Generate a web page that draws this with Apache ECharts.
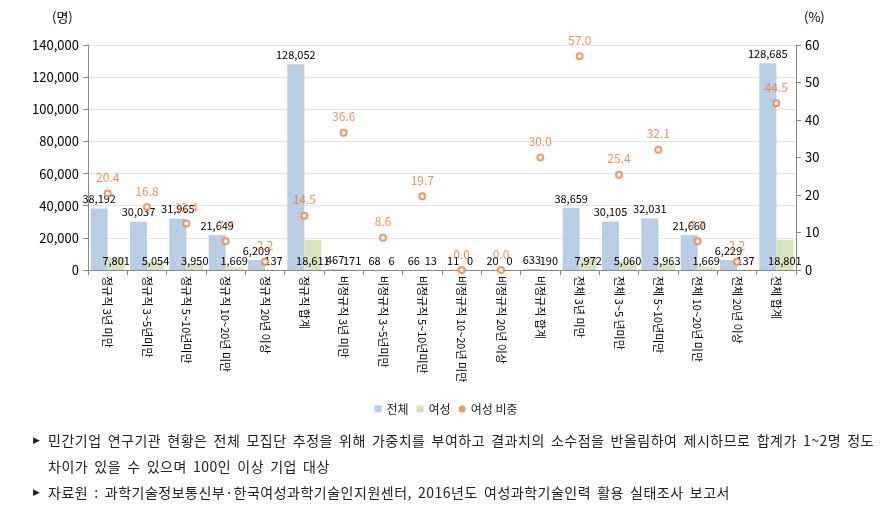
<!DOCTYPE html>
<html><head><meta charset="utf-8">
<script src="https://cdn.jsdelivr.net/npm/echarts@6/dist/echarts.min.js"></script>
<style>
html,body{margin:0;padding:0;background:#fff}
#wrap{position:relative;width:892px;height:508px}
#c{width:892px;height:508px}
.note{position:absolute;left:48px;font-family:'Noto Sans CJK KR','Noto Sans',sans-serif;font-size:14px;letter-spacing:0.5px;word-spacing:2.5px;color:#222;white-space:nowrap;line-height:18px}
.bul{position:absolute;left:33px;font-size:9px;color:#222;line-height:18px;font-family:'DejaVu Sans',sans-serif}
</style>
</head><body><div id="wrap"><div id="c"></div>
<div class="bul" style="top:431px">▶</div>
<div class="note" id="n1" style="top:431px"></div>
<div class="note" id="n2" style="top:457px"></div>
<div class="bul" style="top:483px">▶</div>
<div class="note" id="n3" style="top:483px"></div>
</div>
<script>
const categories = ['정규직 3년 미만','정규직 3~5년미만','정규직 5~10년미만','정규직 10~20년 미만','정규직 20년 이상','정규직 합계','비정규직 3년 미만','비정규직 3~5년미만','비정규직 5~10년미만','비정규직 10~20년 미만','비정규직 20년 이상','비정규직 합계','전체 3년 미만','전체 3~5 년미만','전체 5~10년미만','전체 10~20년 미만','전체 20년 이상','전체 합계'];
const totalValues = [38192,30037,31965,21649,6209,128052,467,68,66,11,20,633,38659,30105,32031,21660,6229,128685];
const femaleValues = [7801,5054,3950,1669,137,18611,171,6,13,0,0,190,7972,5060,3963,1669,137,18801];
const femaleShare = [20.4,16.8,12.4,7.7,2.2,14.5,36.6,8.6,19.7,0.0,0.0,30.0,57.0,25.4,32.1,7.7,2.2,44.5];
const leftTicks = {min:0,max:140000,interval:20000};
const rightTicks = {min:0,max:60,interval:10};
const notes = ['민간기업 연구기관 현황은 전체 모집단 추정을 위해 가중치를 부여하고 결과치의 소수점을 반올림하여 제시하므로 합계가 1~2명 정도',
  '차이가 있을 수 있으며 100인 이상 기업 대상',
  '자료원 : 과학기술정보통신부·한국여성과학기술인지원센터, 2016년도 여성과학기술인력 활용 실태조사 보고서'];
document.getElementById('n1').textContent = notes[0];
document.getElementById('n2').textContent = notes[1];
document.getElementById('n3').textContent = notes[2];

const FONT = "'Noto Sans CJK KR', 'Noto Sans', sans-serif";
const chart = echarts.init(document.getElementById('c'));
const fmt = v => v.toLocaleString('en-US');
chart.setOption({
  animation:false,
  textStyle:{fontFamily:FONT},
  grid:{left:88,right:96,top:45,bottom:238},
  legend:{
    bottom:88, left:'center', itemWidth:7, itemHeight:7, itemGap:8,
    textStyle:{fontSize:12,color:'#222',fontFamily:FONT},
    data:[{name:'전체',icon:'rect'},{name:'여성',icon:'rect'},{name:'여성 비중',icon:'circle'}]
  },
  xAxis:{
    type:'category', data:categories,
    axisLine:{lineStyle:{color:'#888'}},
    axisTick:{show:true,alignWithLabel:false,length:5,lineStyle:{color:'#888'}},
    axisLabel:{interval:0,rotate:-90,fontSize:11,color:'#000',margin:6,fontFamily:FONT}
  },
  yAxis:[
    {type:'value',min:leftTicks.min,max:leftTicks.max,interval:leftTicks.interval,
     axisLine:{show:true,lineStyle:{color:'#888'}},axisTick:{show:true,length:5,lineStyle:{color:'#888'}},
     splitLine:{lineStyle:{color:'#e6e6e6'}},
     axisLabel:{fontSize:13,color:'#000',margin:9,formatter:v=>fmt(v)}},
    {type:'value',min:rightTicks.min,max:rightTicks.max,interval:rightTicks.interval,position:'right',
     axisLine:{show:true,lineStyle:{color:'#888'}},axisTick:{show:true,length:5,lineStyle:{color:'#888'}},
     splitLine:{show:false},
     axisLabel:{fontSize:13,color:'#000',margin:9}}
  ],
  series:[
    {name:'전체',type:'bar',data:totalValues,barWidth:17,barGap:'0%',
     itemStyle:{color:'#b9cde5'},
     label:{show:true,position:'top',distance:4,fontSize:11,color:'#000',formatter:p=>fmt(p.value)}},
    {name:'여성',type:'bar',data:femaleValues,barWidth:17,barGap:'0%',
     itemStyle:{color:'#d7e4bd'},
     label:{show:true,position:'insideBottom',distance:4,fontSize:11,color:'#000',formatter:p=>fmt(p.value)}},
    {name:'여성 비중',type:'scatter',yAxisIndex:1,data:femaleShare,symbol:'emptyCircle',symbolSize:6,
     itemStyle:{color:'#ee7d3a',borderWidth:1.5},
     label:{show:true,position:'top',distance:6,fontSize:12,color:'#ee7433',formatter:p=>p.value.toFixed(1)}}
  ],
  graphic:[
    {type:'text',left:52,top:11,style:{text:'(명)',fontSize:13,fill:'#000',fontFamily:FONT}},
    {type:'text',left:804,top:11,style:{text:'(%)',fontSize:13,fill:'#000',fontFamily:FONT}}
  ]
});
</script></body></html>
